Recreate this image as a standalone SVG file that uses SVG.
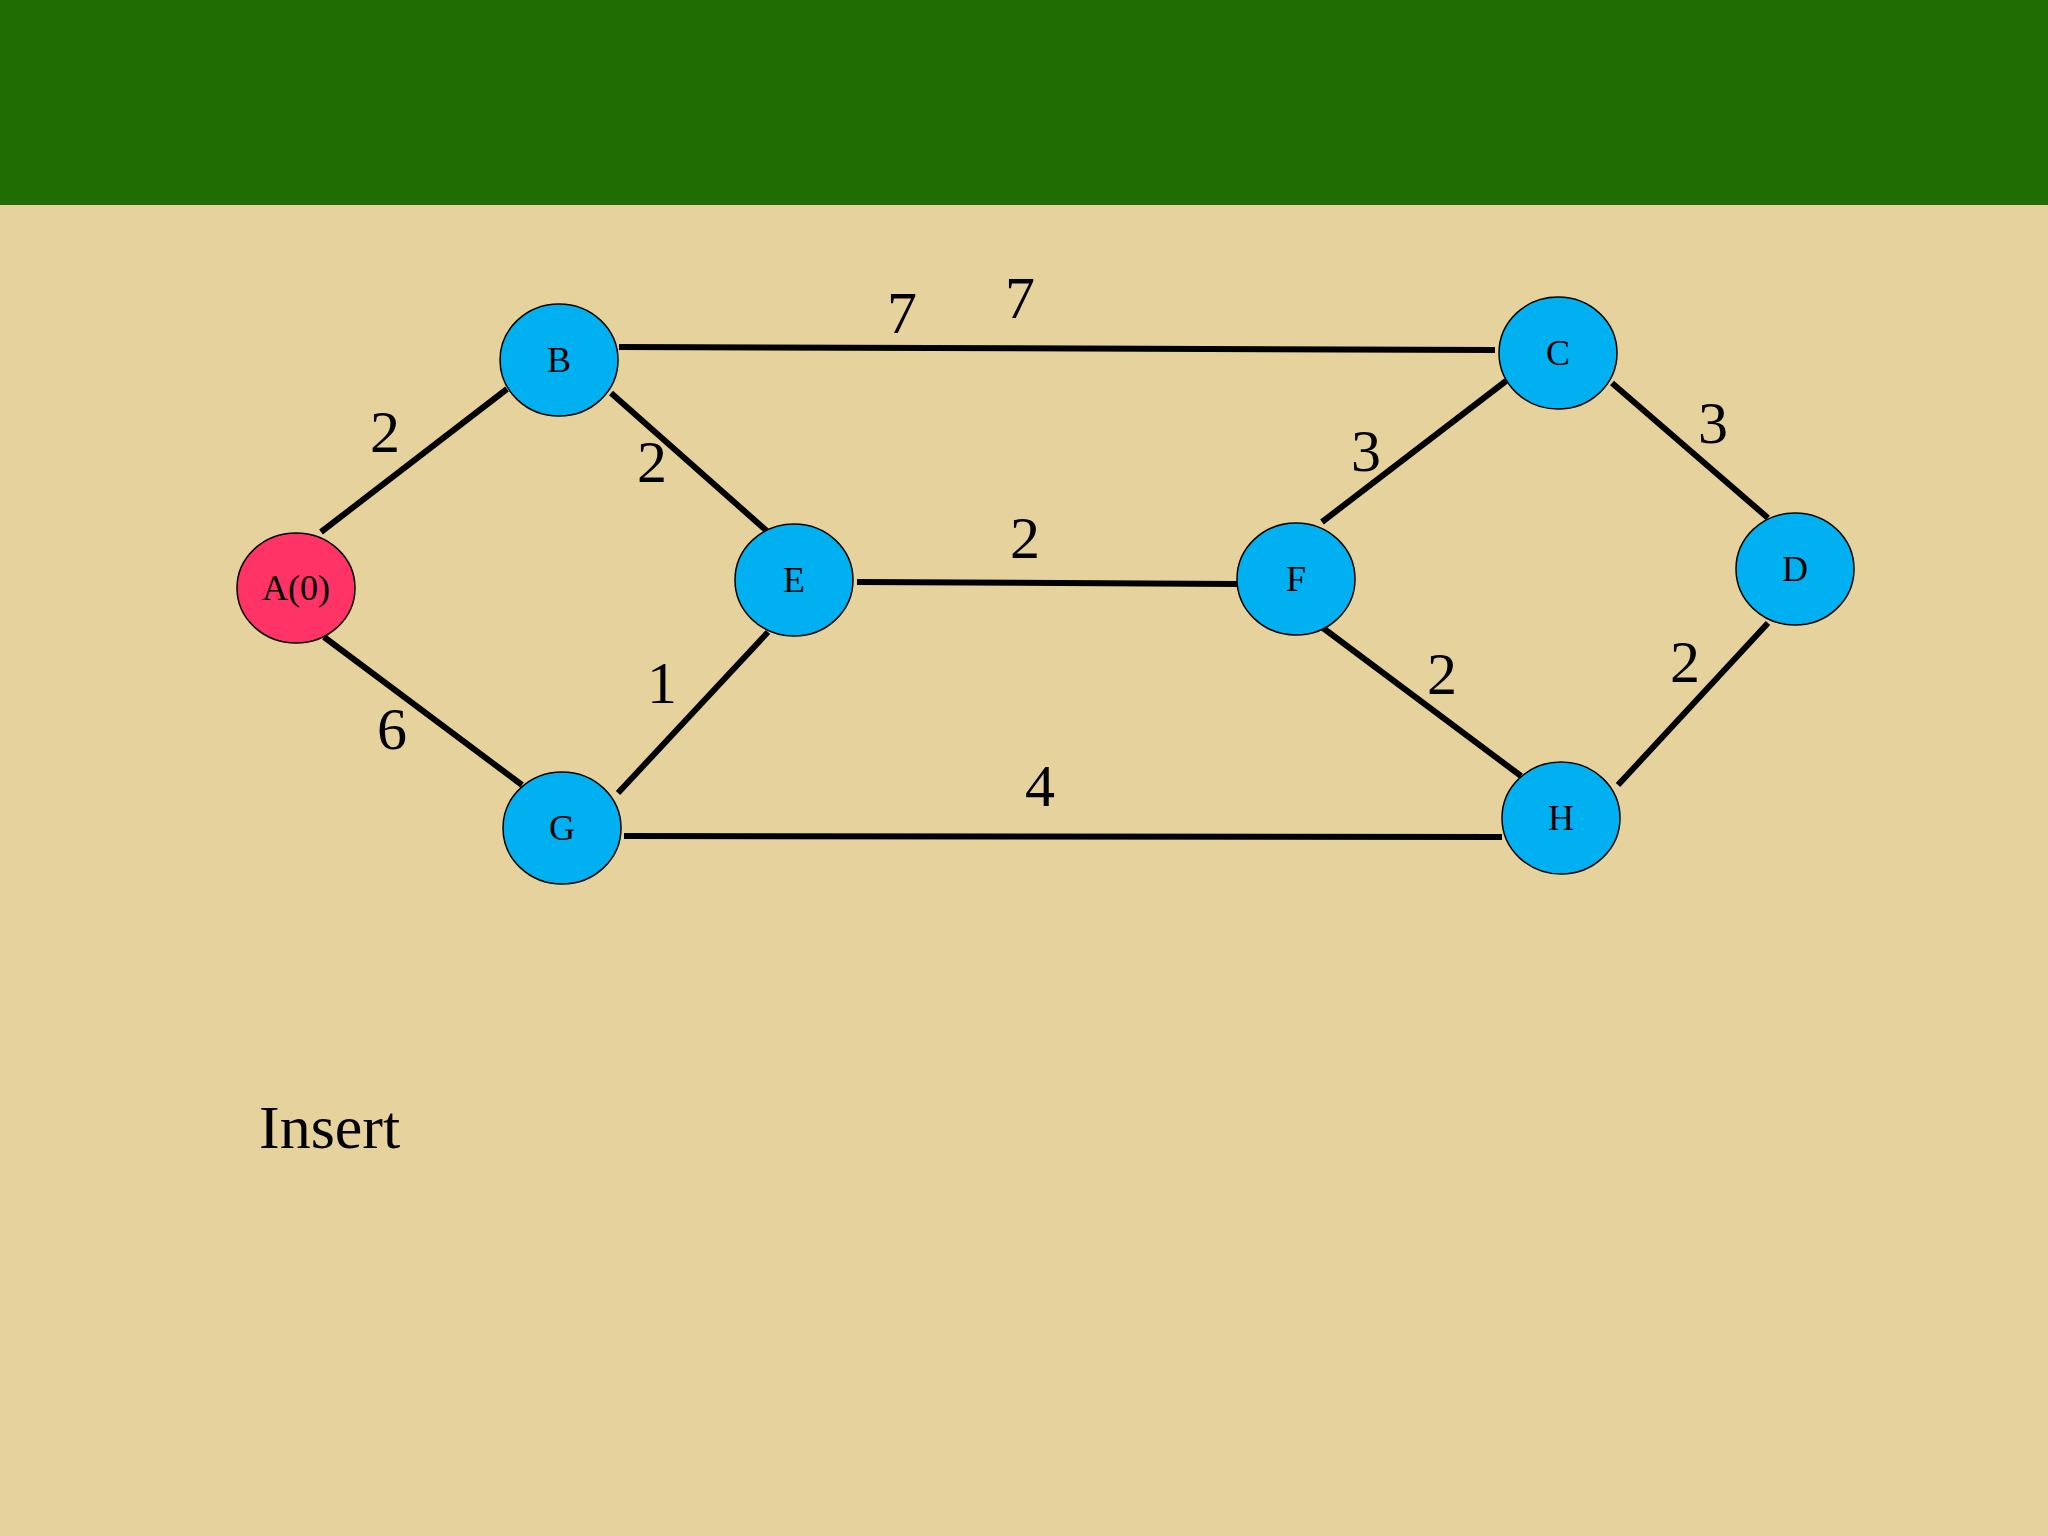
<svg xmlns="http://www.w3.org/2000/svg" width="2048" height="1536" viewBox="0 0 2048 1536">
<style>
.n{fill:#00B0F0;stroke:#000;stroke-width:1.5}
.nt{font-family:"Liberation Serif",serif;font-size:36px;text-anchor:middle;fill:#000}
.w{font-family:"Liberation Serif",serif;font-size:60px;text-anchor:middle;fill:#000}
.e{stroke:#000;stroke-width:6;fill:none}
</style>
<rect width="2048" height="1536" fill="#E6D29C"/>
<rect width="2048" height="205" fill="#206E03"/>
<g id="connectors">
<line class="e" x1="321" y1="532" x2="507" y2="389"/>
<line class="e" x1="324" y1="637" x2="522" y2="785"/>
<line class="e" x1="619" y1="347" x2="1495" y2="350"/>
<line class="e" x1="611" y1="393" x2="768" y2="532"/>
<line class="e" x1="857" y1="582" x2="1238" y2="584"/>
<line class="e" x1="618" y1="793" x2="768" y2="632"/>
<line class="e" x1="624" y1="836" x2="1502" y2="837"/>
<line class="e" x1="1322" y1="522" x2="1506" y2="381"/>
<line class="e" x1="1612" y1="383" x2="1768" y2="518"/>
<line class="e" x1="1323" y1="628" x2="1521" y2="776"/>
<line class="e" x1="1618" y1="785" x2="1768" y2="623"/>
</g>
<g id="labels">
<text class="w" x="902" y="333">7</text>
<text class="w" x="1020" y="318">7</text>
<text class="w" x="385" y="452">2</text>
<text class="w" x="652" y="482">2</text>
<text class="w" x="1366" y="471">3</text>
<text class="w" x="1713" y="443">3</text>
<text class="w" x="1025" y="558">2</text>
<text class="w" x="662" y="703">1</text>
<text class="w" x="392" y="749">6</text>
<text class="w" x="1442" y="694">2</text>
<text class="w" x="1685" y="682">2</text>
<text class="w" x="1040" y="806">4</text>
</g>
<g id="A"><ellipse cx="296" cy="588" rx="59" ry="55" fill="#FF3366" stroke="#000" stroke-width="1.5"/><text class="nt" x="296" y="600">A(0)</text></g>
<g id="B"><ellipse class="n" cx="559" cy="360" rx="59" ry="56"/><text class="nt" x="559" y="372">B</text></g>
<g id="C"><ellipse class="n" cx="1558" cy="353" rx="59" ry="56"/><text class="nt" x="1558" y="365">C</text></g>
<g id="E"><ellipse class="n" cx="794" cy="580" rx="59" ry="56"/><text class="nt" x="794" y="592">E</text></g>
<g id="F"><ellipse class="n" cx="1296" cy="579" rx="59" ry="56"/><text class="nt" x="1296" y="591">F</text></g>
<g id="D"><ellipse class="n" cx="1795" cy="569" rx="59" ry="56"/><text class="nt" x="1795" y="581">D</text></g>
<g id="G"><ellipse class="n" cx="562" cy="828" rx="59" ry="56"/><text class="nt" x="562" y="840">G</text></g>
<g id="H"><ellipse class="n" cx="1561" cy="818" rx="59" ry="56"/><text class="nt" x="1561" y="830">H</text></g>
<text x="259" y="1148" font-family="Liberation Serif, serif" font-size="62" fill="#000">Insert</text>
</svg>
